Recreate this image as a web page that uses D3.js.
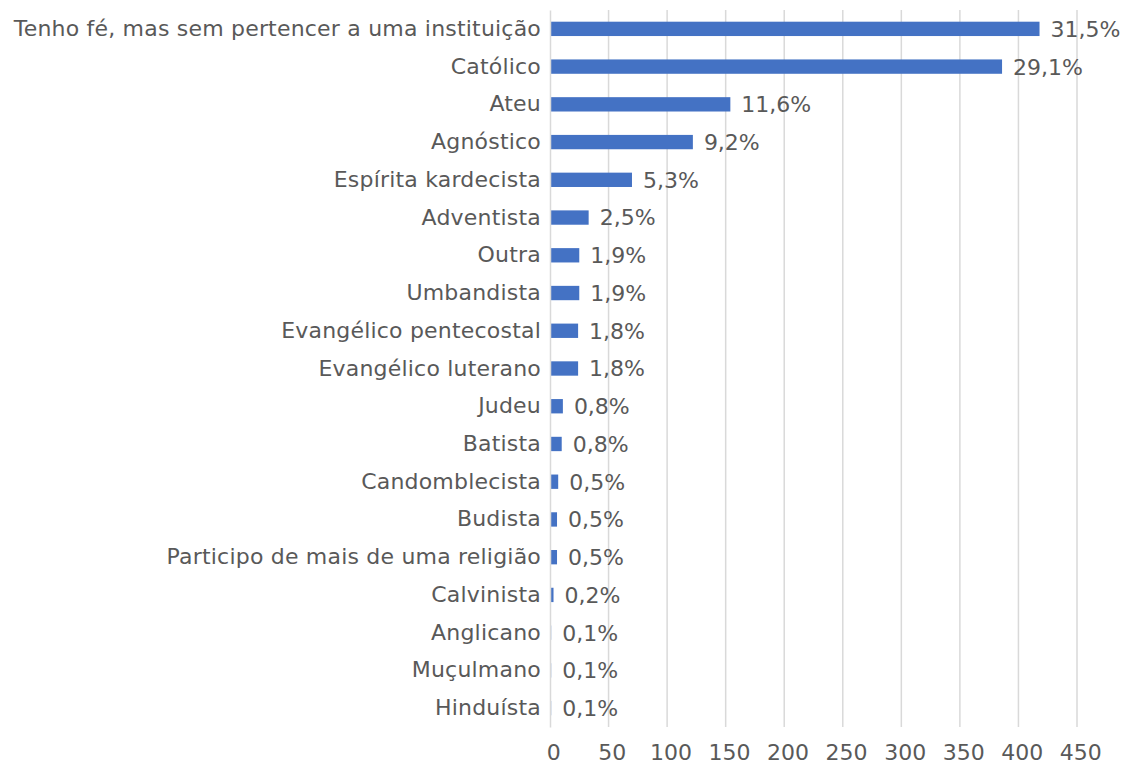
<!DOCTYPE html>
<html>
<head>
<meta charset="utf-8">
<script src="https://cdn.jsdelivr.net/npm/d3@7"></script>
<style>
  html, body { margin: 0; padding: 0; background: #ffffff; }
  svg { display: block; }
  text { font-family: "DejaVu Sans", "Noto Sans", sans-serif; fill: #595959; }
</style>
</head>
<body>
<svg id="chart" width="1121" height="764"></svg>
<script>
// Religião declarada pelos respondentes (número de respostas)
const categories = [
  "Tenho fé, mas sem pertencer a uma instituição",
  "Católico",
  "Ateu",
  "Agnóstico",
  "Espírita kardecista",
  "Adventista",
  "Outra",
  "Umbandista",
  "Evangélico pentecostal",
  "Evangélico luterano",
  "Judeu",
  "Batista",
  "Candomblecista",
  "Budista",
  "Participo de mais de uma religião",
  "Calvinista",
  "Anglicano",
  "Muçulmano",
  "Hinduísta"
];
const counts = [418, 386, 154, 122, 70, 33, 25, 25, 24, 24, 11, 10, 7, 6, 6, 3, 1, 1, 1];
const xTicks = [0, 50, 100, 150, 200, 250, 300, 350, 400, 450];

const total = d3.sum(counts);
const ptBR = d3.formatLocale({ decimal: ",", thousands: ".", grouping: [3], currency: ["R$", ""] });
const pct = ptBR.format(".1%");

const svg = d3.select("#chart");
const margin = { top: 10, right: 44, bottom: 37, left: 550 };
const width = 1121 - margin.left - margin.right;
const height = 764 - margin.top - margin.bottom;

const g = svg.append("g").attr("transform", `translate(${margin.left},${margin.top})`);

const x = d3.scaleLinear().domain([0, 450]).range([0, 527]);
const y = d3.scaleBand().domain(categories).range([0, height]).paddingInner(0.62).paddingOuter(0.31);

// vertical gridlines
g.append("g")
  .selectAll("line")
  .data(xTicks.slice(1))
  .join("line")
  .attr("x1", d => x(d)).attr("x2", d => x(d))
  .attr("y1", 0).attr("y2", height)
  .attr("stroke", "#d9d9d9")
  .attr("stroke-width", 1.5);

// bars
g.append("g")
  .selectAll("rect")
  .data(counts)
  .join("rect")
  .attr("x", x(0))
  .attr("y", (d, i) => y(categories[i]))
  .attr("width", d => x(d) - x(0))
  .attr("height", y.bandwidth())
  .attr("fill", "#4472c4");

// category axis
const yAxis = g.append("g")
  .call(d3.axisLeft(y).tickSize(0).tickPadding(9));
yAxis.select(".domain").attr("stroke", "#d9d9d9").attr("stroke-width", 1.5);
yAxis.selectAll("text")
  .style("font-size", "22px")
  .style("letter-spacing", "0.2px")
  .attr("fill", "#595959");

// value axis
const xAxis = g.append("g")
  .attr("transform", `translate(0,${height})`)
  .call(d3.axisBottom(x).tickValues(xTicks).tickSize(0).tickPadding(17));
xAxis.select(".domain").remove();
xAxis.selectAll("text")
  .style("font-size", "22px")
  .attr("dx", "0.15em")
  .attr("fill", "#595959");

// percentage labels
g.append("g")
  .selectAll("text")
  .data(counts)
  .join("text")
  .attr("x", d => x(d) + 11)
  .attr("y", (d, i) => y(categories[i]) + y.bandwidth() / 2)
  .attr("dy", "0.36em")
  .style("font-size", "22px")
  .text(d => pct(d / total));
</script>
</body>
</html>
